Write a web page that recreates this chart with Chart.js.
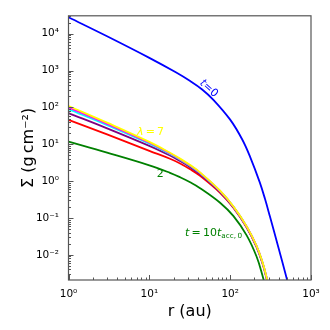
<!DOCTYPE html>
<html>
<head>
<meta charset="utf-8">
<script src="https://cdn.jsdelivr.net/npm/chart.js@4.4.1/dist/chart.umd.min.js"></script>
<style>
  html, body { margin: 0; padding: 0; background: #fff; }
</style>
</head>
<body>
<canvas id="c" width="330" height="330"></canvas>
<script>
// ---- data ----
// initial profile (t = 0)
const R_T0   = [1, 3, 10, 21, 32, 45, 62, 100, 140, 176, 233, 270, 310, 393, 505, 600];
const SIG_T0 = [28000, 8551, 2218, 912, 521, 308, 161, 46.6, 13.9, 4.63, 0.910, 0.325, 0.1107, 0.0166, 0.00212, 0.000449];

// t = 10 t_acc,0 for lambda = 2..7
const R_T10  = [1, 3, 10, 18, 24, 32, 42, 75, 110, 160, 212, 250, 280, 320];
const SIG_L2 = [11.75, 5.94, 2.69, 1.68, 1.276, 0.931, 0.655, 0.259, 0.1117, 0.0336, 0.00897, 0.00283, 0.00102, 0.000234];
const SIG_L3 = [45.9, 18.6, 6.65, 4.05, 3.02, 2.10, 1.416, 0.481, 0.186, 0.0548, 0.01626, 0.00597, 0.00240, 0.000624];
const SIG_L4 = [70.2, 27.1, 9.04, 4.95, 3.51, 2.39, 1.58, 0.514, 0.195, 0.0569, 0.0169, 0.00625, 0.00252, 0.000658];
const SIG_L5 = [90.2, 33.1, 10.4, 5.44, 3.81, 2.56, 1.67, 0.533, 0.1995, 0.0581, 0.0173, 0.0064, 0.00258, 0.000678];
const SIG_L6 = [100, 35.9, 11.0, 5.68, 3.94, 2.64, 1.71, 0.542, 0.2014, 0.0585, 0.01746, 0.00647, 0.00261, 0.000686];
const SIG_L7 = [109.6, 38.6, 11.6, 5.90, 4.08, 2.72, 1.76, 0.551, 0.204, 0.0590, 0.0176, 0.00655, 0.00264, 0.000695];

const X_TICKS = [1, 10, 100, 1000];
const Y_TICKS = [1e-2, 1e-1, 1, 10, 100, 1000, 1e4];

const SUP = {'-':'\u207B','0':'\u2070','1':'\u00B9','2':'\u00B2','3':'\u00B3','4':'\u2074','5':'\u2075','6':'\u2076','7':'\u2077','8':'\u2078','9':'\u2079'};

function pts(rs, ss) { return rs.map((r, i) => ({x: r, y: ss[i]})); }

function powLabel(v, list) {
  const hit = list.find(t => Math.abs(Math.log10(v) - Math.log10(t)) < 1e-6);
  if (hit === undefined) return '';
  const e = String(Math.round(Math.log10(hit)));
  return '10' + e.split('').map(c => SUP[c]).join('');
}

function line(label, data, color, order) {
  return { label, data, borderColor: color, backgroundColor: color, borderWidth: 1.8,
           pointRadius: 0, tension: 0.4, order };
}

// ---- frame, inward ticks and in-plot labels ----
function minorTicks(scale) {
  const out = [];
  const e0 = Math.floor(Math.log10(scale.min)), e1 = Math.ceil(Math.log10(scale.max));
  for (let e = e0; e <= e1; e++) {
    for (let m = 1; m <= 9; m++) {
      const v = m * Math.pow(10, e);
      if (v >= scale.min * 0.9999 && v <= scale.max * 1.0001) out.push({v, major: m === 1});
    }
  }
  return out;
}

function drawRuns(ctx, runs, x, y, size, color, align) {
  const fam = '"DejaVu Sans"';
  const fontOf = r => `${r.italic ? 'italic ' : ''}${r.sub ? size * 0.66 : size}px ${fam}`;
  let w = 0;
  runs.forEach(r => { ctx.font = fontOf(r); w += ctx.measureText(r.t).width; });
  let cx = align === 'center' ? x - w / 2 : x;
  ctx.fillStyle = color;
  ctx.textBaseline = 'alphabetic';
  ctx.textAlign = 'left';
  runs.forEach(r => {
    ctx.font = fontOf(r);
    ctx.fillText(r.t, cx, y + (r.sub ? size * 0.2 : 0));
    cx += ctx.measureText(r.t).width;
  });
}

const decor = {
  id: 'decor',
  afterDatasetsDraw(chart) {
    const {ctx, chartArea: a, scales: {x, y}} = chart;
    ctx.save();
    ctx.strokeStyle = '#555';
    ctx.lineWidth = 1;
    ctx.beginPath();
    minorTicks(x).forEach(t => {
      const px = Math.round(x.getPixelForValue(t.v)) + 0.5;
      ctx.moveTo(px, a.bottom);
      ctx.lineTo(px, a.bottom - (t.major ? 5 : 2.5));
    });
    minorTicks(y).forEach(t => {
      const py = Math.round(y.getPixelForValue(t.v)) + 0.5;
      ctx.moveTo(a.left, py);
      ctx.lineTo(a.left + (t.major ? 5 : 2.5), py);
    });
    ctx.stroke();
    ctx.lineWidth = 1.2;
    ctx.strokeRect(a.left, a.top, a.right - a.left, a.bottom - a.top);

    // t=0
    ctx.save();
    ctx.translate(x.getPixelForValue(55.6), y.getPixelForValue(342));
    ctx.rotate(42 * Math.PI / 180);
    drawRuns(ctx, [{t: 't', italic: true}, {t: '=0'}], 0, 4, 11, '#0000ff', 'center');
    ctx.restore();

    drawRuns(ctx, [{t: '\u03BB', italic: true}, {t: '\u2009=\u20097'}],
      x.getPixelForValue(10.35), y.getPixelForValue(21.7) + 3, 11, '#ffff00', 'center');
    drawRuns(ctx, [{t: '2'}], x.getPixelForValue(13.6), y.getPixelForValue(1.65) + 4, 11, '#008000', 'center');
    drawRuns(ctx, [{t: 't', italic: true}, {t: '\u2009=\u200910'}, {t: 't', italic: true}, {t: 'acc,\u20090', sub: true}],
      x.getPixelForValue(27.7), y.getPixelForValue(0.0326), 11, '#008000', 'left');
    ctx.restore();
  }
};

Chart.defaults.font.family = '"DejaVu Sans"';
Chart.defaults.color = '#000';

new Chart(document.getElementById('c'), {
  type: 'line',
  data: {
    datasets: [
      line('t=0', pts(R_T0, SIG_T0), '#0000ff', 6),
      line('2', pts(R_T10, SIG_L2), '#008000', 5),
      line('3', pts(R_T10, SIG_L3), '#ff0000', 4),
      line('4', pts(R_T10, SIG_L4), '#800080', 3),
      line('5', pts(R_T10, SIG_L5), '#00ffff', 2),
      line('6', pts(R_T10, SIG_L6), '#ff00ff', 1),
      line('7', pts(R_T10, SIG_L7), '#ffff00', 0)
    ]
  },
  options: {
    responsive: false,
    animation: false,
    devicePixelRatio: 1,
    layout: { padding: { top: 7.5, right: 19, left: 0, bottom: 0 } },
    plugins: { legend: { display: false }, tooltip: { enabled: false } },
    scales: {
      x: {
        type: 'logarithmic', min: 1, max: 1000,
        grid: { display: false, drawTicks: false },
        border: { display: false },
        ticks: { autoSkip: false, maxRotation: 0, padding: 8, font: { size: 10.5 },
                 callback: v => powLabel(v, X_TICKS) },
        title: { display: true, text: 'r (au)', font: { size: 16 }, padding: { top: 0, bottom: 8.7 } },
        afterFit: s => { s.height = 50; }
      },
      y: {
        type: 'logarithmic', min: 2.07e-3, max: 3.07e4,
        grid: { display: false, drawTicks: false },
        border: { display: false },
        ticks: { autoSkip: false, padding: 9.5, font: { size: 10.5 },
                 callback: v => powLabel(v, Y_TICKS) },
        title: { display: true, text: '\u03A3 (g\u2009cm\u207B\u00B2)', font: { size: 16 }, padding: { top: 19.4, bottom: 0 } },
        afterFit: s => { s.width = 68.5; }
      }
    }
  },
  plugins: [decor]
});
</script>
</body>
</html>
